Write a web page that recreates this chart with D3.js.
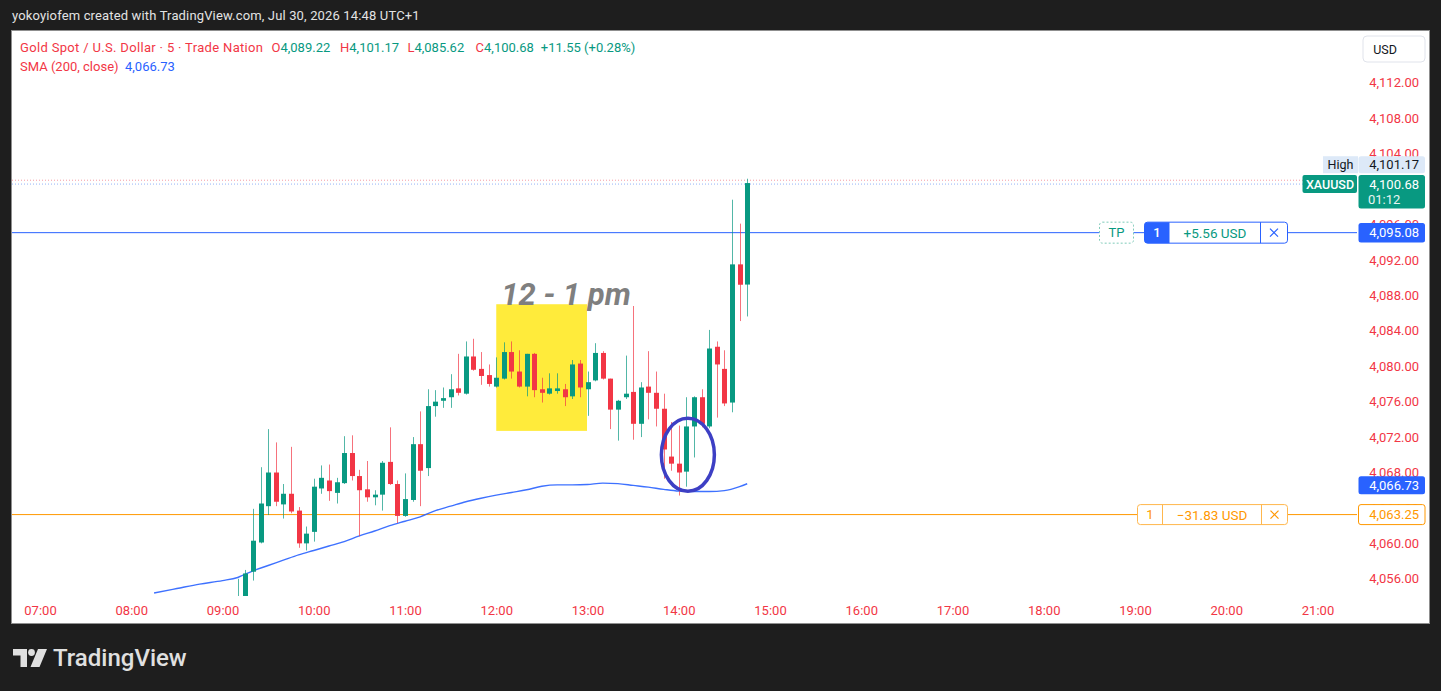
<!DOCTYPE html>
<html><head><meta charset="utf-8">
<script src="https://cdn.jsdelivr.net/npm/d3@7/dist/d3.min.js"></script>
<style>
html,body{margin:0;padding:0;background:#1e1e1e;overflow:hidden;}
svg{display:block;font-family:Roboto,"Noto Sans",sans-serif;}
</style></head><body>
<svg id="c" width="1441" height="691"></svg>
<script>
// ---------- data ----------
const candleTimes = [
"09:10","09:15","09:20","09:25","09:30","09:35","09:40","09:45","09:50","09:55",
"10:00","10:05","10:10","10:15","10:20","10:25","10:30","10:35","10:40","10:45","10:50","10:55",
"11:00","11:05","11:10","11:15","11:20","11:25","11:30","11:35","11:40","11:45","11:50","11:55",
"12:00","12:05","12:10","12:15","12:20","12:25","12:30","12:35","12:40","12:45","12:50","12:55",
"13:00","13:05","13:10","13:15","13:20","13:25","13:30","13:35","13:40","13:45","13:50","13:55",
"14:00","14:05","14:10","14:15","14:20","14:25","14:30","14:35","14:40","14:45"];
const opens = [4053.2,4053.5,4056.8,4060.1,4064.2,4068.0,4064.4,4065.6,4063.7,4060.0,
4061.3,4066.2,4067.1,4065.7,4066.8,4070.2,4067.6,4066.1,4065.2,4065.5,
4069.2,4066.7,4063.1,4064.9,4071.2,4068.5,4075.5,4076.1,4076.5,4077.5,
4076.9,4081.1,4079.7,4079.0,4077.7,4078.6,4081.6,4079.4,4077.7,4081.4,
4077.4,4076.9,4077.2,4077.4,4076.6,4080.3,4077.4,4078.4,4081.5,4078.6,
4075.1,4076.5,4077.1,4073.5,4077.7,4077.0,4075.2,4069.8,4069.0,4068.1,
4073.2,4076.5,4073.2,4082.2,4079.7,4075.9,4091.5,4089.22];
const highs = [4056.0,4057.0,4063.9,4068.6,4072.9,4071.4,4066.7,4070.9,4064.1,4061.9,
4067.3,4068.8,4068.9,4067.4,4072.1,4072.2,4068.3,4069.3,4066.0,4069.3,
4073.1,4067.1,4067.9,4072.0,4074.9,4077.4,4077.3,4077.6,4079.1,4081.4,
4082.8,4083.1,4081.6,4080.2,4081.0,4082.7,4082.8,4081.8,4081.4,4081.5,
4078.7,4079.2,4079.2,4078.0,4080.7,4080.7,4079.4,4082.6,4081.7,4078.6,
4076.2,4081.2,4086.8,4078.2,4081.7,4079.4,4076.9,4073.7,4073.3,4076.5,
4076.6,4077.4,4084.1,4082.8,4081.8,4098.8,4096.1,4101.17];
const lows = [4052.5,4053.0,4055.8,4060.0,4063.2,4064.2,4062.8,4063.4,4059.5,4059.2,
4060.2,4065.6,4064.8,4064.5,4066.7,4067.1,4060.8,4064.7,4064.3,4063.7,
4066.6,4062.3,4063.0,4064.7,4064.2,4067.6,4074.3,4075.3,4075.3,4076.7,
4076.8,4079.5,4077.9,4077.7,4077.6,4078.5,4078.6,4077.6,4076.6,4076.5,
4075.9,4076.8,4076.9,4075.5,4076.3,4076.5,4074.4,4078.3,4078.5,4072.9,
4071.6,4076.3,4071.7,4072.0,4074.0,4073.2,4067.3,4068.2,4065.4,4066.4,
4069.7,4073.1,4073.0,4074.2,4075.5,4074.8,4085.1,4085.62];
const closes = [4054.0,4056.6,4060.3,4064.5,4068.0,4064.7,4065.6,4063.6,4060.0,4061.1,
4066.4,4067.4,4065.9,4066.9,4070.2,4067.6,4066.0,4065.2,4065.5,4069.1,
4066.7,4063.1,4065.0,4071.2,4068.2,4075.5,4076.0,4076.4,4077.4,4077.0,
4081.1,4079.6,4078.9,4078.0,4078.7,4081.6,4079.4,4077.7,4081.4,4077.3,
4077.0,4077.5,4077.5,4076.5,4080.2,4077.6,4078.2,4081.5,4078.6,4075.1,
4076.1,4076.9,4073.5,4077.6,4077.0,4075.2,4070.6,4069.0,4068.0,4073.2,
4076.5,4073.5,4082.0,4080.2,4075.8,4091.5,4089.2,4100.68];

const smaTimes = ["08:15","08:30","08:45","09:00","09:10","09:20","09:30","09:40","09:50","10:00",
"10:10","10:20","10:30","10:40","10:50","11:00","11:10","11:20","11:30","11:40","11:50",
"12:00","12:10","12:20","12:30","12:40","12:50","13:00","13:10","13:20","13:30","13:40","13:50",
"14:00","14:10","14:20","14:30","14:40","14:45"];
const smaValues = [4054.4,4054.9,4055.4,4055.8,4056.15,4056.9,4057.5,4058.1,4058.7,4059.2,
4059.7,4060.2,4060.85,4061.4,4062.0,4062.5,4063.0,4063.7,4064.2,4064.7,4065.1,
4065.45,4065.75,4066.05,4066.45,4066.6,4066.6,4066.65,4066.8,4066.75,4066.55,4066.35,4066.1,
4065.9,4065.85,4065.85,4065.95,4066.4,4066.73];

const hourTicks = ["07:00","08:00","09:00","10:00","11:00","12:00","13:00","14:00","15:00","16:00","17:00","18:00","19:00","20:00","21:00"];
const priceTicks = [4056,4060,4064,4068,4072,4076,4080,4084,4088,4092,4096,4104,4108,4112];

const lastClose = 4100.68, dayHigh = 4101.17, smaLast = 4066.73;
const tpPrice = 4095.08, slPrice = 4063.25;
const tpPnl = "+5.56 USD", slPnl = "\u221231.83 USD";
const zone = {from:"12:00", to:"13:00", top:4087.0, bottom:4072.7, label:"12 - 1 pm"};
const circleMark = {t:"14:06", price:4070.0};

// ---------- setup ----------
const W=1441,H=691;
const RED="#f23645", GREEN="#089981", BLUE="#2962ff", ORANGE="#ff9800";
const svg=d3.select("#c");
const pane={l:12,r:1357,t:31,b:596};
const parseT = s => { const [h,m]=s.split(":").map(Number); return new Date(2026,6,30,h,m); };
const x = d3.scaleTime().domain([parseT("07:00"),parseT("15:00")]).range([40,770]);
const y = d3.scaleLinear().domain([4056,4112]).range([578.8,82.8]);
const fmt = d3.format(",.2f");

svg.append("rect").attr("width",W).attr("height",H).attr("fill","#1e1e1e");
svg.append("text").attr("x",12).attr("y",15).attr("dominant-baseline","central")
  .attr("font-size",13).attr("letter-spacing",0.15).attr("fill","#e3e3e3")
  .text("yokoyiofem created with TradingView.com, Jul 30, 2026 14:48 UTC+1");
svg.append("rect").attr("x",11.5).attr("y",30.5).attr("width",1418).attr("height",593)
  .attr("fill","#fff").attr("stroke","#8f8f8f").attr("stroke-width",1);

// clip
svg.append("defs").append("clipPath").attr("id","pc").append("rect")
  .attr("x",pane.l).attr("y",pane.t).attr("width",pane.r-pane.l).attr("height",pane.b-pane.t);
const g = svg.append("g").attr("clip-path","url(#pc)");

// yellow zone
g.append("rect").attr("x",x(parseT(zone.from))).attr("y",y(zone.top))
  .attr("width",x(parseT(zone.to))-x(parseT(zone.from))-0.5)
  .attr("height",y(zone.bottom)-y(zone.top)).attr("fill","#ffeb3b");

// dotted lines (high & last)
g.append("line").attr("x1",pane.l).attr("x2",pane.r).attr("y1",y(dayHigh)+1.5).attr("y2",y(dayHigh)+1.5)
  .attr("stroke","#f59aa2").attr("stroke-dasharray","1 2");
g.append("line").attr("x1",pane.l).attr("x2",pane.r).attr("y1",y(lastClose)+1).attr("y2",y(lastClose)+1)
  .attr("stroke","#93b4f7").attr("stroke-dasharray","1 2");

// TP & SL lines
g.append("line").attr("x1",pane.l).attr("x2",pane.r).attr("y1",y(tpPrice)).attr("y2",y(tpPrice))
  .attr("stroke",BLUE).attr("stroke-width",1);
g.append("line").attr("x1",pane.l).attr("x2",pane.r).attr("y1",y(slPrice)).attr("y2",y(slPrice))
  .attr("stroke",ORANGE).attr("stroke-width",1);

// SMA
const smaData = smaTimes.map((t,i)=>({t:parseT(t),v:smaValues[i]}));
g.append("path").datum(smaData).attr("fill","none").attr("stroke",BLUE).attr("stroke-width",1.4)
  .attr("stroke-opacity",0.9)
  .attr("d",d3.line().x(d=>x(d.t)).y(d=>y(d.v)).curve(d3.curveMonotoneX));

// candles
const candles = candleTimes.map((t,i)=>({t:parseT(t),o:opens[i],h:highs[i],l:lows[i],c:closes[i]}));
const cg = g.append("g").selectAll("g").data(candles).join("g");
cg.append("line")
  .attr("x1",d=>Math.round(x(d.t))+0.5).attr("x2",d=>Math.round(x(d.t))+0.5)
  .attr("y1",d=>y(d.h)).attr("y2",d=>y(d.l))
  .attr("stroke",d=>d.c>=d.o?GREEN:RED).attr("stroke-opacity",0.7);
cg.append("rect")
  .attr("x",d=>Math.round(x(d.t))-2).attr("width",5)
  .attr("y",d=>y(Math.max(d.o,d.c)))
  .attr("height",d=>Math.max(1,Math.abs(y(d.o)-y(d.c))))
  .attr("fill",d=>d.c>=d.o?GREEN:RED);

// annotation text & ellipse
g.append("text").attr("x",x(parseT(zone.from))+5).attr("y",y(zone.top)+1)
  .attr("font-size",31).attr("font-weight","bold").attr("font-style","italic")
  .attr("fill","#7f7f7f").text(zone.label);
g.append("ellipse").attr("cx",x(parseT(circleMark.t))).attr("cy",y(circleMark.price))
  .attr("rx",26.5).attr("ry",36.5).attr("fill","none").attr("stroke","#3d3fc4").attr("stroke-width",3.5);

// header legend
const hdr = svg.append("g").attr("font-size",13);
function seg(xp,yp,txt,col,ls){ hdr.append("text").attr("x",xp).attr("y",yp).attr("dominant-baseline","central")
  .attr("letter-spacing",ls||0).attr("fill",col).text(txt); }
seg(20,47,"Gold Spot / U.S. Dollar \u00b7 5 \u00b7 Trade Nation",RED,0.33);
const ohlc=[["O",opens[67],271.5],["H",highs[67],340],["L",lows[67],407.4],["C",closes[67],475.6]];
ohlc.forEach(([k,v,xp])=>{
  const t=hdr.append("text").attr("x",xp).attr("y",47).attr("dominant-baseline","central");
  t.append("tspan").attr("fill",RED).text(k);
  t.append("tspan").attr("fill",GREEN).text(fmt(v));
});
seg(540.8,47,"+11.55 (+0.28%)",GREEN);
seg(20,66,"SMA (200, close)",RED);
seg(125,66,fmt(smaLast),BLUE);

// price axis
const ya = svg.append("g").attr("transform","translate(1419,0)")
  .call(d3.axisRight(y).tickValues(priceTicks).tickSize(0).tickPadding(0).tickFormat(fmt));
ya.select(".domain").remove();
ya.selectAll("text").attr("text-anchor","end").attr("fill",RED).attr("font-size",13)
  .attr("font-family","Roboto, 'Noto Sans', sans-serif");

// time axis
const xa = svg.append("g").attr("transform","translate(0,610)")
  .call(d3.axisBottom(x).tickValues(hourTicks.map(parseT)).tickSize(0).tickFormat(d3.timeFormat("%H:%M")));
xa.select(".domain").remove();
xa.selectAll("text").attr("y",0).attr("dy","0.35em").attr("fill",RED).attr("font-size",13)
  .attr("font-family","Roboto, 'Noto Sans', sans-serif");

// USD button
svg.append("rect").attr("x",1363).attr("y",36).attr("width",62).attr("height",26).attr("rx",4)
  .attr("fill","#fff").attr("stroke","#e0e3eb");
svg.append("text").attr("x",1385).attr("y",49).attr("text-anchor","middle").attr("dominant-baseline","central")
  .attr("font-size",12.5).attr("fill","#131722").text("USD");

// axis badges
function axisBadge(yc,h,fill,stroke,txt,tcol){
  svg.append("rect").attr("x",1358.5).attr("y",yc-h/2).attr("width",66.5).attr("height",h).attr("rx",2.5)
    .attr("fill",fill).attr("stroke",stroke||"none");
  svg.append("text").attr("x",1419).attr("y",yc).attr("text-anchor","end").attr("dominant-baseline","central")
    .attr("font-size",13).attr("fill",tcol).text(txt);
}
// High
const yh = y(dayHigh)-14;
svg.append("rect").attr("x",1323).attr("y",yh-8.5).attr("width",35).attr("height",17).attr("fill","#dde9f8");
svg.append("text").attr("x",1340.5).attr("y",yh).attr("text-anchor","middle").attr("dominant-baseline","central")
  .attr("font-size",12.5).attr("fill","#131722").text("High");
axisBadge(yh,17,"#dde9f8",null,fmt(dayHigh),"#131722");
// last price
const yl = y(lastClose)+1;
svg.append("rect").attr("x",1302.5).attr("y",yl-9).attr("width",54.5).attr("height",18).attr("rx",2).attr("fill",GREEN);
svg.append("text").attr("x",1330).attr("y",yl).attr("text-anchor","middle").attr("dominant-baseline","central")
  .attr("font-size",12.5).attr("font-weight",500).attr("fill","#fff").text("XAUUSD");
svg.append("rect").attr("x",1358.5).attr("y",yl-9).attr("width",66.5).attr("height",33.5).attr("rx",2.5).attr("fill",GREEN);
svg.append("text").attr("x",1419).attr("y",yl).attr("text-anchor","end").attr("dominant-baseline","central")
  .attr("font-size",13).attr("fill","#fff").text(fmt(lastClose));
svg.append("text").attr("x",1368).attr("y",yl+15).attr("dominant-baseline","central")
  .attr("font-size",13).attr("fill","#e8f5f2").text("01:12");
axisBadge(y(tpPrice),19.5,BLUE,null,fmt(tpPrice),"#fff");
axisBadge(y(smaLast)+1.5,18,BLUE,null,fmt(smaLast),"#fff");
axisBadge(y(slPrice),20,"#fff",ORANGE,fmt(slPrice),ORANGE);

// order labels
function xMark(cx,cy,col){
  svg.append("path").attr("d",`M${cx-4},${cy-4}L${cx+4},${cy+4}M${cx+4},${cy-4}L${cx-4},${cy+4}`)
    .attr("stroke",col).attr("stroke-width",1.2);
}
const yt = y(tpPrice);
svg.append("rect").attr("x",1099.5).attr("y",yt-10.5).attr("width",34).attr("height",21).attr("rx",3)
  .attr("fill","#fff").attr("stroke","#7fcbb9").attr("stroke-dasharray","2 2");
svg.append("text").attr("x",1116.5).attr("y",yt).attr("text-anchor","middle").attr("dominant-baseline","central")
  .attr("font-size",13).attr("fill",GREEN).text("TP");
svg.append("rect").attr("x",1144.5).attr("y",yt-10.5).attr("width",143).attr("height",21).attr("rx",3)
  .attr("fill","#fff").attr("stroke",BLUE);
svg.append("path").attr("d",`M1169.5,${yt-10.5}H1147.5a3,3 0 0 0 -3,3V${yt+7.5}a3,3 0 0 0 3,3H1169.5Z`).attr("fill",BLUE);
svg.append("text").attr("x",1157).attr("y",yt).attr("text-anchor","middle").attr("dominant-baseline","central")
  .attr("font-size",13).attr("font-weight",500).attr("fill","#fff").text("1");
svg.append("text").attr("x",1215).attr("y",yt).attr("text-anchor","middle").attr("dominant-baseline","central")
  .attr("font-size",13.5).attr("fill",GREEN).text(tpPnl);
svg.append("line").attr("x1",1260.5).attr("x2",1260.5).attr("y1",yt-10.5).attr("y2",yt+10.5).attr("stroke",BLUE);
xMark(1274,yt,BLUE);

const ys = y(slPrice);
svg.append("rect").attr("x",1137.5).attr("y",ys-10).attr("width",150).attr("height",20).attr("rx",3)
  .attr("fill","#fff").attr("stroke","#ffb74d");
svg.append("text").attr("x",1150).attr("y",ys).attr("text-anchor","middle").attr("dominant-baseline","central")
  .attr("font-size",13).attr("fill",ORANGE).text("1");
svg.append("line").attr("x1",1162.5).attr("x2",1162.5).attr("y1",ys-10).attr("y2",ys+10).attr("stroke","#ffb74d");
svg.append("text").attr("x",1212).attr("y",ys).attr("text-anchor","middle").attr("dominant-baseline","central")
  .attr("font-size",13.5).attr("fill",ORANGE).text(slPnl);
svg.append("line").attr("x1",1261.5).attr("x2",1261.5).attr("y1",ys-10).attr("y2",ys+10).attr("stroke","#ffb74d");
xMark(1274.5,ys,ORANGE);

// TradingView logo
const lg = svg.append("g").attr("fill","#e0e0e0");
lg.append("path").attr("d","M13,649H27V667H20.5V655.5H13Z");
lg.append("circle").attr("cx",31.5).attr("cy",652.5).attr("r",3.4);
lg.append("path").attr("d","M38,649H47L39.5,667H30.5Z");
lg.append("text").attr("x",53).attr("y",666).attr("font-size",24).attr("font-weight",500).text("TradingView");
</script>
</body></html>
